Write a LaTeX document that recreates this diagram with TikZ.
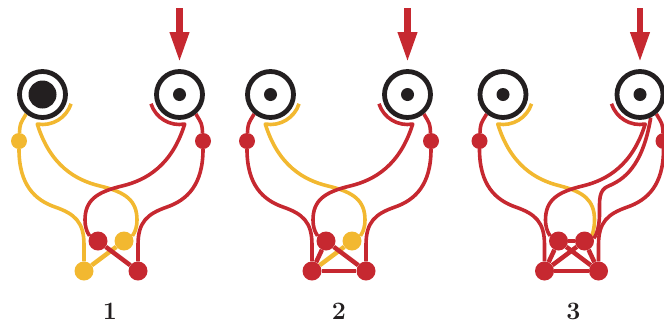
\documentclass[tikz,border=0pt]{standalone}
\usetikzlibrary{arrows.meta,backgrounds,calc}
\definecolor{yel}{RGB}{242,184,48}
\definecolor{rd}{RGB}{198,40,48}
\definecolor{ink}{RGB}{35,31,32}
\tikzset{
  ring/.style={circle, draw=ink, line width=4.8pt, minimum size=46pt, inner sep=0pt},
  bigcore/.style={circle, fill=ink, minimum size=28pt, inner sep=0pt},
  core/.style={circle, fill=ink, minimum size=13pt, inner sep=0pt},
  rdot/.style={circle, fill=rd, minimum size=19pt, inner sep=0pt},
  ydot/.style={circle, fill=yel, minimum size=19pt, inner sep=0pt},
  sdotr/.style={circle, fill=rd, minimum size=16pt, inner sep=0pt},
  sdoty/.style={circle, fill=yel, minimum size=16pt, inner sep=0pt},
  ywire/.style={draw=yel, line width=3.6pt, line join=round},
  rwire/.style={draw=rd, line width=3.6pt, line join=round},
  ylink/.style={draw=yel, line width=4.5pt},
  rlink/.style={draw=rd, line width=4.5pt},
  inarrow/.style={draw=rd, line width=6.5pt, -{Triangle[width=18pt,length=30pt]}},
  lbl/.style={text=ink, font=\fontsize{25}{27}\selectfont\bfseries}
}
\begin{document}
\begin{tikzpicture}[x=1pt,y=-1pt]
\useasboundingbox (0,0) rectangle (664,325);

% ---------------- panel 1 ----------------
\begin{scope}
  \node[ring] (L1) at (42.5,94.5) {};
  \node[bigcore] (Lc1) at (L1) {};
  \node[ring] (R1) at (179.5,94.5) {};
  \node[core] (Rc1) at (R1) {};
  \node[sdoty] (A1) at (19,141) {};
  \node[sdotr] (B1) at (203,141) {};
  \node[rdot] (UL1) at (98,241) {};
  \node[ydot] (UR1) at (124,241) {};
  \node[ydot] (BL1) at (84,271) {};
  \node[rdot] (BR1) at (138,271) {};
  \coordinate (T1) at (179.5,8);
  \draw[inarrow, shorten >=7pt] (T1) -- (R1.north);
  \node[lbl] (N1) at (110,311) {1};
  \begin{scope}[on background layer]
    \draw[ywire] (L1.230) .. controls (20,124) .. (A1) .. controls (19,185) and (35,200) .. (55,207) .. controls (75,214) and (84,222) .. (84,245) -- (BL1);
    \draw[ywire] ($(L1)+(18:30)$) arc[start angle=18, end angle=100, radius=30] .. controls (50,165) and (75,180) .. (100,186) .. controls (125,192) and (137,200) .. (137,220) .. controls (137,232) and (131,237) .. (UR1);
    \draw[rwire] (R1.310) .. controls (202,124) .. (B1) .. controls (203,185) and (187,200) .. (167,207) .. controls (147,214) and (138,222) .. (138,245) -- (BR1);
    \draw[rwire] ($(R1)+(162:30)$) arc[start angle=162, end angle=80, radius=30] .. controls (172,165) and (147,180) .. (122,186) .. controls (97,192) and (85,200) .. (85,220) .. controls (85,232) and (91,237) .. (UL1);
    \draw[ylink] (BL1) -- (UR1);
    \draw[rlink] (UL1) -- (BR1);
  \end{scope}
\end{scope}

% ---------------- panel 2 ----------------
\begin{scope}[xshift=228pt]
  \node[ring] (L2) at (42.5,94.5) {};
  \node[core] (Lc2) at (L2) {};
  \node[ring] (R2) at (179.5,94.5) {};
  \node[core] (Rc2) at (R2) {};
  \node[sdotr] (A2) at (19,141) {};
  \node[sdotr] (B2) at (203,141) {};
  \node[rdot] (UL2) at (98,241) {};
  \node[ydot] (UR2) at (124,241) {};
  \node[rdot] (BL2) at (84,271) {};
  \node[rdot] (BR2) at (138,271) {};
  \coordinate (T2) at (179.5,8);
  \draw[inarrow, shorten >=7pt] (T2) -- (R2.north);
  \node[lbl] (N2) at (111,311) {2};
  \begin{scope}[on background layer]
    \draw[ywire] ($(L2)+(18:30)$) arc[start angle=18, end angle=100, radius=30] .. controls (50,165) and (75,180) .. (100,186) .. controls (125,192) and (137,200) .. (137,220) .. controls (137,232) and (131,237) .. (UR2);
    \draw[rwire] (L2.230) .. controls (20,124) .. (A2) .. controls (19,185) and (35,200) .. (55,207) .. controls (75,214) and (84,222) .. (84,245) -- (BL2);
    \draw[rwire] (R2.310) .. controls (202,124) .. (B2) .. controls (203,185) and (187,200) .. (167,207) .. controls (147,214) and (138,222) .. (138,245) -- (BR2);
    \draw[rwire] ($(R2)+(162:30)$) arc[start angle=162, end angle=80, radius=30] .. controls (172,165) and (147,180) .. (122,186) .. controls (97,192) and (85,200) .. (85,220) .. controls (85,232) and (91,237) .. (UL2);
    \draw[ylink] (BL2) -- (UR2);
    \draw[rlink] (BL2) -- (UL2);
    \draw[rlink] (BL2) -- (BR2);
    \draw[rlink] (UL2) -- (BR2);
  \end{scope}
\end{scope}

% ---------------- panel 3 ----------------
\begin{scope}[xshift=460.5pt]
  \node[ring] (L3) at (42.5,94.5) {};
  \node[core] (Lc3) at (L3) {};
  \node[ring] (R3) at (179.5,94.5) {};
  \node[core] (Rc3) at (R3) {};
  \node[sdotr] (A3) at (19,141) {};
  \node[sdotr] (B3) at (203,141) {};
  \node[rdot] (UL3) at (98,241) {};
  \node[rdot] (UR3) at (124,241) {};
  \node[rdot] (BL3) at (84,271) {};
  \node[rdot] (BR3) at (138,271) {};
  \coordinate (T3) at (179.5,8);
  \draw[inarrow, shorten >=7pt] (T3) -- (R3.north);
  \node[lbl] (N3) at (113,311) {3};
  \begin{scope}[on background layer]
    \draw[ywire] ($(L3)+(18:30)$) arc[start angle=18, end angle=100, radius=30] .. controls (50,165) and (75,180) .. (100,186) .. controls (123,192) and (134,200) .. (134,220) .. controls (134,232) and (130,237) .. (UR3);
    \draw[rwire] (L3.230) .. controls (20,124) .. (A3) .. controls (19,185) and (35,200) .. (55,207) .. controls (75,214) and (84,222) .. (84,245) -- (BL3);
    \draw[rwire] (R3.310) .. controls (202,124) .. (B3) .. controls (203,185) and (187,200) .. (167,207) .. controls (147,214) and (138,222) .. (138,245) -- (BR3);
    \draw[rwire] ($(R3)+(162:30)$) arc[start angle=162, end angle=80, radius=30] .. controls (172,165) and (147,180) .. (122,186) .. controls (97,192) and (85,200) .. (85,220) .. controls (85,232) and (91,237) .. (UL3);
    \draw[rwire] (R3.295) .. controls (182,168) and (162,180) .. (148,186) .. controls (138,190) and (139,200) .. (139,214) .. controls (139,230) and (134,238) .. (UR3);
    \draw[rlink] (BL3) -- (UL3);
    \draw[rlink] (BL3) -- (UR3);
    \draw[rlink] (BL3) -- (BR3);
    \draw[rlink] (UL3) -- (BR3);
    \draw[rlink] (UL3) -- (UR3);
    \draw[rlink] (UR3) -- (BR3);
  \end{scope}
\end{scope}
\end{tikzpicture}
\end{document}
